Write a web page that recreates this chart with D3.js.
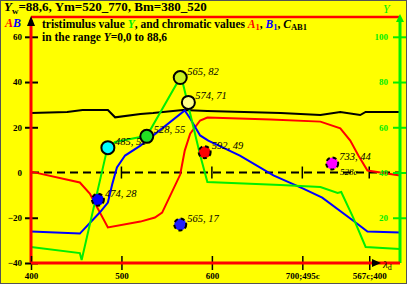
<!DOCTYPE html>
<html>
<head>
<meta charset="utf-8">
<script src="https://cdn.jsdelivr.net/npm/d3@7"></script>
<style>
  html, body { margin: 0; padding: 0; background: #ffff00; }
  svg { display: block; font-family: "Liberation Serif", "Times New Roman", serif; }
</style>
</head>
<body>
<svg id="chart" width="407" height="284"></svg>
<script>
// wavelength positions (nm, beyond 700 the compensation scale continues)
var redA = [[400,0.4],[454,-4.4],[465,-9.3],[485,-24.3],[521,-21.7],[537,-19.9],[545,-17.7],[565,-0.9],[570,9.7],[576,17.2],[587,23],[595,24.3],[665,23.4],[720,22.5],[742,19.5],[753,14.1],[762,7.5],[772,0.9],[808,-1.3]];
var blueB = [[400,-26.1],[454,-27],[476,-17.7],[485,-13.3],[490,-4.9],[495,2.2],[504,7.5],[521,11.9],[570,27.4],[576,23.9],[587,16.4],[596,14.1],[631,7.5],[668,-1.3],[701,-7.1],[722,-11.1],[756,-21.2],[772,-26.1],[808,-26.5]];
var greenY = [[400,7.1],[454,4.4],[456,1.3],[484,50],[493,53.5],[521,55.7],[528,56.1],[566,82.7],[587,47.7],[595,35.8],[676,34.5],[720,33.6],[739,31],[743,31.4],[756,20.3],[770,7.1],[808,6.2]];
var blackY = [[400,66.3],[440,66.8],[457,67.6],[485,67.6],[493,64.4],[521,65.9],[535,66.3],[568,67.6],[595,67.2],[676,66.3],[720,65.4],[742,66.8],[764,65.4],[770,66.8],[808,66.8]];

var points = [
  {wl:474, Y:28, label:"474, 28", fill:"#0000ff", dashed:true},
  {wl:485, Y:51, label:"485, 51", fill:"#00ffff", dashed:false},
  {wl:528, Y:56, label:"528, 55", fill:"#22e022", dashed:false},
  {wl:565, Y:82, label:"565, 82", fill:"#c8f020", dashed:false},
  {wl:574, Y:71, label:"574, 71", fill:"#ffff88", dashed:false},
  {wl:592, Y:49, label:"592, 49", fill:"#ff0000", dashed:true},
  {wl:565, Y:17, label:"565, 17", fill:"#2020ff", dashed:true},
  {wl:733, Y:44, label:"733, 44", fill:"#ff00ff", dashed:true}
];

var xTickVals = [400, 500, 600, 700, 774];
var xTickLabels = ["400", "500", "600", "700;495c", "567c;400"];
var leftTicks = [-40, -20, 0, 20, 40, 60];
var rightTicks = [20, 40, 60, 80, 100];

var svg = d3.select("#chart");

svg.append("rect").attr("x", 0.5).attr("y", 0.5).attr("width", 406).attr("height", 283)
    .attr("fill", "#ffff00").attr("stroke", "#555").attr("stroke-width", 1);

var x = d3.scaleLinear().domain([400, 808]).range([31, 400]);
var yA = d3.scaleLinear().domain([-40, 60]).range([263, 36.8]);
var yY = d3.scaleLinear().domain([0, 100]).range([263, 36.8]);

var lineA = d3.line().x(function(d) { return x(d[0]); }).y(function(d) { return yA(d[1]); });
var lineY = d3.line().x(function(d) { return x(d[0]); }).y(function(d) { return yY(d[1]); });

// top red frame line
svg.append("line").attr("x1", 31).attr("x2", 400).attr("y1", 17).attr("y2", 17)
    .attr("stroke", "#ff0000").attr("stroke-width", 2.5);

// zero dashed line
svg.append("line").attr("x1", 31).attr("x2", 400).attr("y1", yA(0)).attr("y2", yA(0))
    .attr("stroke", "#000").attr("stroke-width", 2).attr("stroke-dasharray", "8,5");
svg.selectAll(".zt").data(xTickVals.slice(1)).enter().append("line")
    .attr("x1", function(d) { return x(d); }).attr("x2", function(d) { return x(d); })
    .attr("y1", yA(0) - 6).attr("y2", yA(0) + 6)
    .attr("stroke", "#000").attr("stroke-width", 1.5);

// curves
svg.append("path").datum(blackY).attr("d", lineY).attr("fill", "none").attr("stroke", "#000").attr("stroke-width", 2);
svg.append("path").datum(redA).attr("d", lineA).attr("fill", "none").attr("stroke", "#ff0000").attr("stroke-width", 2);
svg.append("path").datum(blueB).attr("d", lineA).attr("fill", "none").attr("stroke", "#0000ff").attr("stroke-width", 2);
svg.append("path").datum(greenY).attr("d", lineY).attr("fill", "none").attr("stroke", "#00ee00").attr("stroke-width", 2);

// left axis
var axL = svg.append("g").attr("transform", "translate(31,0)")
    .call(d3.axisLeft(yA).tickValues(leftTicks).tickSize(0).tickPadding(9));
axL.select(".domain").remove();
axL.selectAll("text").attr("font-size", 9).attr("font-weight", "bold").attr("fill", "#000")
    .attr("font-family", "Liberation Serif, serif");
axL.selectAll(".tick").filter(function(d) { return d !== 0; }).append("line")
    .attr("x1", -6).attr("x2", 7).attr("stroke", "#000").attr("stroke-width", 2);
svg.append("line").attr("x1", 31).attr("x2", 31).attr("y1", 20).attr("y2", 263)
    .attr("stroke", "#ff0000").attr("stroke-width", 3);
svg.append("path").attr("d", "M31,16 L27,26 L35,26 Z").attr("fill", "#000");

// right axis
var axR = svg.append("g").attr("transform", "translate(400,0)")
    .call(d3.axisLeft(yY).tickValues(rightTicks).tickSize(0).tickPadding(12));
axR.select(".domain").remove();
axR.selectAll("text").attr("font-size", 9).attr("font-weight", "bold").attr("fill", "#00ee00")
    .attr("font-family", "Liberation Serif, serif");
axR.selectAll(".tick").append("line").attr("x1", -7).attr("x2", 6)
    .attr("stroke", "#00ee00").attr("stroke-width", 2);
svg.append("line").attr("x1", 400).attr("x2", 400).attr("y1", 20).attr("y2", 263)
    .attr("stroke", "#00ee00").attr("stroke-width", 3);
svg.append("path").attr("d", "M400,14 L396,22 L404,22 Z").attr("fill", "#00ee00");
svg.append("text").attr("x", 383).attr("y", 13).attr("font-size", 12).attr("font-style", "italic")
    .attr("fill", "#00ee00").text("Y");

// bottom axis
var axB = svg.append("g").attr("transform", "translate(0,263)")
    .call(d3.axisBottom(x).tickValues(xTickVals).tickSize(0).tickPadding(10)
        .tickFormat(function(d, i) { return xTickLabels[i]; }));
axB.select(".domain").remove();
axB.selectAll("text").attr("font-size", 9).attr("font-weight", "bold").attr("fill", "#000")
    .attr("font-family", "Liberation Serif, serif");
axB.selectAll(".tick").append("line").attr("y1", -7).attr("y2", 7)
    .attr("stroke", "#000").attr("stroke-width", 1.5);
svg.append("line").attr("x1", 31).attr("x2", 400).attr("y1", 263).attr("y2", 263)
    .attr("stroke", "#ff0000").attr("stroke-width", 3);
svg.append("path").attr("d", "M372,259 L381,263 L372,267 Z").attr("fill", "#000");
var ld = svg.append("text").attr("x", 383).attr("y", 268).attr("font-size", 11).attr("fill", "#000");
ld.append("tspan").attr("font-style", "italic").text("λ");
ld.append("tspan").attr("font-size", 8).attr("dy", 2).text("d");

// labels under circles
svg.append("text").attr("x", 340).attr("y", 175).attr("font-size", 9).attr("font-style", "italic")
    .attr("fill", "#000").text("528c");
svg.selectAll(".plab").data(points).enter().append("text")
    .attr("x", function(d) { return x(d.wl) + 7; })
    .attr("y", function(d) { return yY(d.Y) - 3; })
    .attr("font-size", 10.5).attr("font-style", "italic").attr("fill", "#000")
    .text(function(d) { return d.label; });

// circles
svg.selectAll(".pt").data(points).enter().append("circle")
    .attr("cx", function(d) { return x(d.wl); })
    .attr("cy", function(d) { return yY(d.Y); })
    .attr("r", function(d) { return d.dashed ? 6 : 6.5; })
    .attr("fill", function(d) { return d.fill; })
    .attr("stroke", "#000").attr("stroke-width", 2)
    .attr("stroke-dasharray", function(d) { return d.dashed ? "4,3" : null; });

// title
var t = svg.append("text").attr("x", 4).attr("y", 11).attr("font-size", 13).attr("font-weight", "bold").attr("fill", "#000");
t.append("tspan").attr("font-style", "italic").text("Y");
t.append("tspan").attr("font-size", 9).attr("dy", 3).text("w");
t.append("tspan").attr("dy", -3).text("=88,6, Ym=520_770, Bm=380_520");

var ab = svg.append("text").attr("x", 5).attr("y", 27).attr("font-size", 12).attr("font-weight", "bold").attr("font-style", "italic");
ab.append("tspan").attr("fill", "#ff0000").text("A");
ab.append("tspan").attr("fill", "#0000ff").text("B");

var s1 = svg.append("text").attr("x", 42).attr("y", 28).attr("font-size", 11.5).attr("font-weight", "bold").attr("fill", "#000");
s1.append("tspan").text("tristimulus value ");
s1.append("tspan").attr("font-style", "italic").attr("fill", "#00ee00").text("Y");
s1.append("tspan").text(", and chromatic values ");
s1.append("tspan").attr("font-style", "italic").attr("fill", "#ff0000").text("A");
s1.append("tspan").attr("fill", "#ff0000").attr("font-size", 8.5).attr("dy", 2).text("1");
s1.append("tspan").attr("dy", -2).text(", ");
s1.append("tspan").attr("font-style", "italic").attr("fill", "#0000ff").text("B");
s1.append("tspan").attr("fill", "#0000ff").attr("font-size", 8.5).attr("dy", 2).text("1");
s1.append("tspan").attr("dy", -2).text(", ");
s1.append("tspan").attr("font-style", "italic").text("C");
s1.append("tspan").attr("font-size", 8.5).attr("dy", 2).text("AB1");

var s2 = svg.append("text").attr("x", 42).attr("y", 41).attr("font-size", 11.5).attr("font-weight", "bold").attr("fill", "#000");
s2.append("tspan").text("in the range ");
s2.append("tspan").attr("font-style", "italic").text("Y");
s2.append("tspan").text("=0,0 to 88,6");
</script>
</body>
</html>
